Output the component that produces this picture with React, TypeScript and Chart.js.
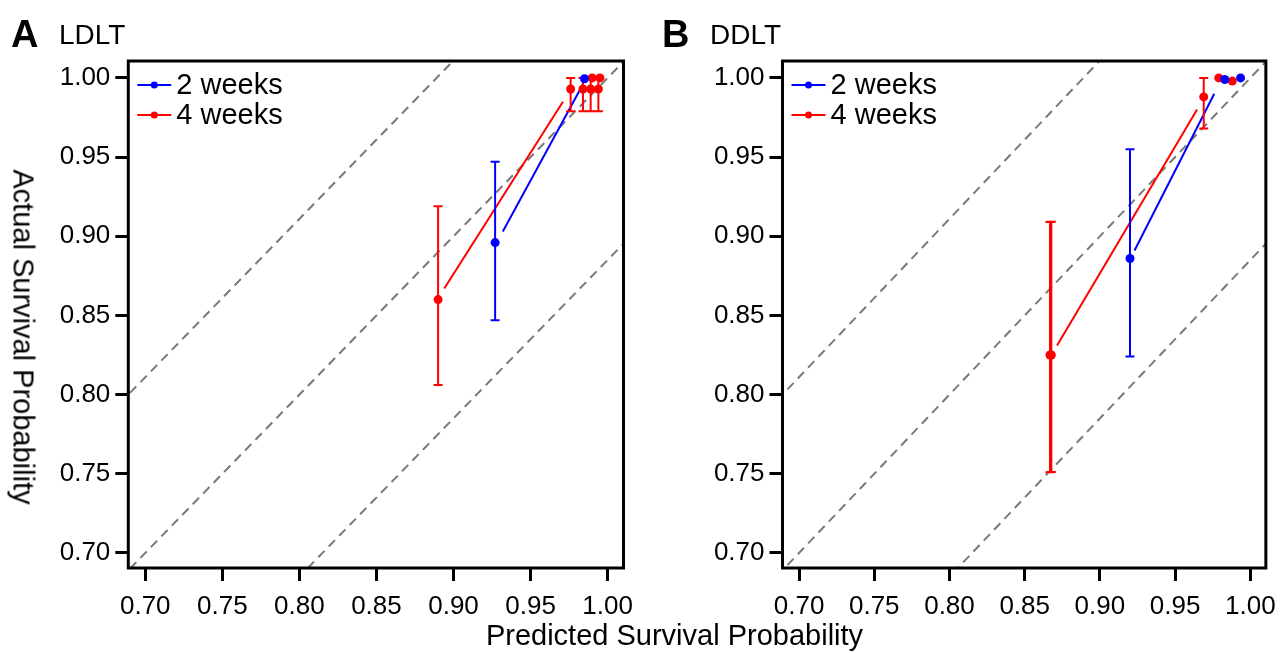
import React, { useEffect, useRef } from "react";
import { Chart, registerables } from "chart.js";
Chart.register(...registerables);

const FONT = "'Liberation Sans', Arial, Helvetica, sans-serif";

const X_TICKS = [0.7, 0.75, 0.8, 0.85, 0.9, 0.95, 1.0];
const Y_TICKS = [0.7, 0.75, 0.8, 0.85, 0.9, 0.95, 1.0];
const SERIES_NAMES = ["2 weeks", "4 weeks"];
const DIAG_OFFSETS = [0.111, 0, -0.115];
const X_RANGE = [0.689, 1.0103];
const Y_RANGE = [0.6905, 1.0107];

// Panel A (LDLT)
const A_BLUE_X = [0.927, 0.985];
const A_BLUE_Y = [0.896, 0.9995];
const A_BLUE_LO = [0.847, 0.9995];
const A_BLUE_HI = [0.947, 0.9995];
const A_RED_X = [0.89, 0.976, 0.984, 0.989, 0.994, 0.99, 0.995];
const A_RED_Y = [0.86, 0.993, 0.993, 0.993, 0.993, 1.0, 1.0];
const A_RED_LO = [0.806, 0.979, 0.979, 0.979, 0.979, 1.0, 1.0];
const A_RED_HI = [0.919, 1.0, 1.0, 1.0, 1.0, 1.0, 1.0];
const A_BLUE_FIT_X = [0.932, 0.984];
const A_BLUE_FIT_Y = [0.903, 0.996];
const A_RED_FIT_X = [0.894, 0.971];
const A_RED_FIT_Y = [0.867, 0.985];

// Panel B (DDLT)
const B_BLUE_X = [0.92, 0.983, 0.9935];
const B_BLUE_Y = [0.886, 0.999, 1.0];
const B_BLUE_LO = [0.824, 0.999, 1.0];
const B_BLUE_HI = [0.955, 0.999, 1.0];
const B_RED_X = [0.8668, 0.8677, 0.969, 0.979, 0.988];
const B_RED_Y = [0.825, 0.825, 0.988, 1.0, 0.998];
const B_RED_LO = [0.751, 0.7512, 0.968, 1.0, 0.998];
const B_RED_HI = [0.909, 0.9092, 1.0, 1.0, 0.998];
const B_BLUE_FIT_X = [0.923, 0.976];
const B_BLUE_FIT_Y = [0.891, 0.99];
const B_RED_FIT_X = [0.8715, 0.9646];
const B_RED_FIT_Y = [0.831, 0.98];

const BLUE = "#0000ff";
const RED = "#ff0000";
const DASH = "#7a7a7a";

type Series = { x: number[]; y: number[]; lo: number[]; hi: number[]; fx: number[]; fy: number[] };
type PanelCfg = {
  left: number;
  width: number;
  yAxisWidth: number;
  padRight: number;
  blue: Series;
  red: Series;
};

const PANEL_A: PanelCfg = {
  left: 0,
  width: 650,
  yAxisWidth: 128.3,
  padRight: 26.5,
  blue: { x: A_BLUE_X, y: A_BLUE_Y, lo: A_BLUE_LO, hi: A_BLUE_HI, fx: A_BLUE_FIT_X, fy: A_BLUE_FIT_Y },
  red: { x: A_RED_X, y: A_RED_Y, lo: A_RED_LO, hi: A_RED_HI, fx: A_RED_FIT_X, fy: A_RED_FIT_Y },
};
const PANEL_B: PanelCfg = {
  left: 650,
  width: 636,
  yAxisWidth: 132.5,
  padRight: 10.5,
  blue: { x: B_BLUE_X, y: B_BLUE_Y, lo: B_BLUE_LO, hi: B_BLUE_HI, fx: B_BLUE_FIT_X, fy: B_BLUE_FIT_Y },
  red: { x: B_RED_X, y: B_RED_Y, lo: B_RED_LO, hi: B_RED_HI, fx: B_RED_FIT_X, fy: B_RED_FIT_Y },
};

const pts = (xs: number[], ys: number[]) => xs.map((x, i) => ({ x, y: ys[i] }));

function Panel({ cfg }: { cfg: PanelCfg }) {
  const ref = useRef<HTMLCanvasElement | null>(null);
  useEffect(() => {
    if (!ref.current) return;
    const seriesByIndex: Record<number, { s: Series; color: string }> = {
      0: { s: cfg.blue, color: BLUE },
      1: { s: cfg.red, color: RED },
    };
    const deco = {
      id: "panelDeco",
      beforeDatasetDraw(chart: any, args: any) {
        const info = seriesByIndex[args.index];
        if (!info) return;
        const { ctx, scales, chartArea } = chart;
        const xs = scales.x;
        const ys = scales.y;
        ctx.save();
        ctx.beginPath();
        ctx.rect(chartArea.left, chartArea.top, chartArea.right - chartArea.left, chartArea.bottom - chartArea.top);
        ctx.clip();
        ctx.strokeStyle = info.color;
        ctx.lineWidth = 2;
        const cap = 4.5;
        info.s.x.forEach((xv, i) => {
          const lo = info.s.lo[i];
          const hi = info.s.hi[i];
          if (hi - lo < 1e-9) return;
          const px = xs.getPixelForValue(xv);
          const pl = ys.getPixelForValue(lo);
          const ph = ys.getPixelForValue(hi);
          ctx.beginPath();
          ctx.moveTo(px, pl);
          ctx.lineTo(px, ph);
          ctx.moveTo(px - cap, pl);
          ctx.lineTo(px + cap, pl);
          ctx.moveTo(px - cap, ph);
          ctx.lineTo(px + cap, ph);
          ctx.stroke();
        });
        ctx.restore();
      },
      afterDatasetsDraw(chart: any) {
        const { ctx, chartArea } = chart;
        ctx.save();
        ctx.strokeStyle = "#000";
        ctx.lineWidth = 3;
        ctx.strokeRect(chartArea.left, chartArea.top, chartArea.right - chartArea.left, chartArea.bottom - chartArea.top);
        const colors = [BLUE, RED];
        SERIES_NAMES.forEach((name, i) => {
          const y = chartArea.top + 24 + i * 30;
          const l = chartArea.left + 9;
          ctx.strokeStyle = colors[i];
          ctx.lineWidth = 2;
          ctx.beginPath();
          ctx.moveTo(l, y);
          ctx.lineTo(l + 34, y);
          ctx.stroke();
          ctx.fillStyle = colors[i];
          ctx.beginPath();
          ctx.arc(l + 17, y, 3.5, 0, Math.PI * 2);
          ctx.fill();
          ctx.fillStyle = "#000";
          ctx.font = `29px ${FONT}`;
          ctx.textBaseline = "middle";
          ctx.textAlign = "left";
          ctx.fillText(name, l + 39, y + 1);
        });
        ctx.restore();
      },
    };

    const diagSets = DIAG_OFFSETS.map((off) => ({
      data: [
        { x: 0.5, y: 0.5 + off },
        { x: 1.2, y: 1.2 + off },
      ],
      showLine: true,
      borderColor: DASH,
      borderWidth: 2,
      borderDash: [9, 6],
      pointRadius: 0,
    }));

    const chart = new Chart(ref.current, {
      type: "scatter",
      data: {
        datasets: [
          {
            data: pts(cfg.blue.x, cfg.blue.y),
            showLine: false,
            pointRadius: 4.5,
            pointBackgroundColor: BLUE,
            pointBorderWidth: 0,
          },
          {
            data: pts(cfg.red.x, cfg.red.y),
            showLine: false,
            pointRadius: 4.5,
            pointBackgroundColor: RED,
            pointBorderWidth: 0,
          },
          {
            data: pts(cfg.blue.fx, cfg.blue.fy),
            showLine: true,
            borderColor: BLUE,
            borderWidth: 2,
            pointRadius: 0,
          },
          {
            data: pts(cfg.red.fx, cfg.red.fy),
            showLine: true,
            borderColor: RED,
            borderWidth: 2,
            pointRadius: 0,
          },
          ...diagSets,
        ] as any,
      },
      options: {
        responsive: false,
        animation: false,
        events: [],
        layout: { padding: { top: 61, right: cfg.padRight, left: 0, bottom: 0 } },
        plugins: { legend: { display: false }, tooltip: { enabled: false }, title: { display: false } },
        scales: {
          x: {
            type: "linear",
            min: X_RANGE[0],
            max: X_RANGE[1],
            afterBuildTicks: (axis: any) => {
              axis.ticks = X_TICKS.map((v) => ({ value: v }));
            },
            afterFit: (axis: any) => {
              axis.height = 85;
            },
            border: { display: false },
            grid: { drawOnChartArea: false, drawTicks: true, tickLength: 13, tickWidth: 3, tickColor: "#000", color: "#000" },
            ticks: {
              padding: 10,
              color: "#000",
              font: { family: FONT, size: 26 },
              maxRotation: 0,
              autoSkip: false,
              callback: (v: any) => Number(v).toFixed(2),
            },
          },
          y: {
            type: "linear",
            min: Y_RANGE[0],
            max: Y_RANGE[1],
            afterBuildTicks: (axis: any) => {
              axis.ticks = Y_TICKS.map((v) => ({ value: v }));
            },
            afterFit: (axis: any) => {
              axis.width = cfg.yAxisWidth;
            },
            border: { display: false },
            grid: { drawOnChartArea: false, drawTicks: true, tickLength: 13, tickWidth: 3, tickColor: "#000", color: "#000" },
            ticks: {
              padding: 5,
              color: "#000",
              font: { family: FONT, size: 26 },
              autoSkip: false,
              callback: (v: any) => Number(v).toFixed(2),
            },
          },
        },
      } as any,
      plugins: [deco as any],
    });
    return () => chart.destroy();
  }, [cfg]);
  return (
    <canvas
      ref={ref}
      width={cfg.width}
      height={653}
      style={{ position: "absolute", left: cfg.left, top: 0, width: cfg.width, height: 653 }}
    />
  );
}

export default function App() {
  const txt: React.CSSProperties = { position: "absolute", lineHeight: 1, whiteSpace: "nowrap" };
  return (
    <div
      style={{
        position: "fixed",
        left: 0,
        top: 0,
        width: 1286,
        height: 653,
        background: "#fff",
        fontFamily: FONT,
        color: "#000",
        overflow: "hidden",
      }}
    >
      <Panel cfg={PANEL_A} />
      <Panel cfg={PANEL_B} />
      <div style={{ ...txt, left: 11, top: 15, fontSize: 38, fontWeight: "bold" }}>A</div>
      <div style={{ ...txt, left: 59, top: 21, fontSize: 28 }}>LDLT</div>
      <div style={{ ...txt, left: 662, top: 15, fontSize: 38, fontWeight: "bold" }}>B</div>
      <div style={{ ...txt, left: 710, top: 21, fontSize: 28 }}>DDLT</div>
      <div style={{ ...txt, left: 674.5, top: 621, fontSize: 29, transform: "translateX(-50%)" }}>
        Predicted Survival Probability
      </div>
      <div
        style={{
          ...txt,
          left: 23,
          top: 337,
          fontSize: 29,
          transform: "translate(-50%, -50%) rotate(90deg)",
        }}
      >
        Actual Survival Probability
      </div>
    </div>
  );
}
